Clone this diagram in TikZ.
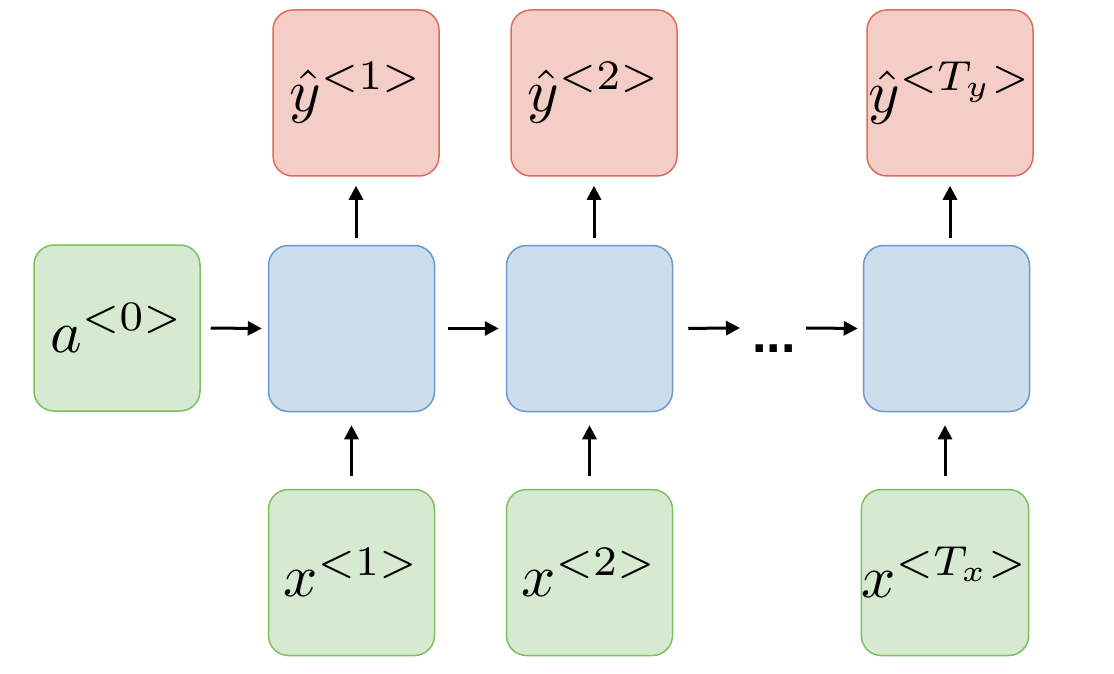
\documentclass[tikz,border=0pt]{standalone}
\usepackage{graphicx}
\usepackage[no-math]{fontspec}
\newfontfamily\dotsfont{Liberation Sans}
\usetikzlibrary{arrows.meta}
\definecolor{gfill}{HTML}{D5EAD0}
\definecolor{gdraw}{HTML}{7EBF5E}
\definecolor{bfill}{HTML}{CCDEEC}
\definecolor{bdraw}{HTML}{6A98CF}
\definecolor{rfill}{HTML}{F5CDC7}
\definecolor{rdraw}{HTML}{E06A5A}
\newcommand{\boxmath}[1]{\scalebox{6}{$#1$}}
\tikzset{
  box/.style={draw, line width=1.5pt, rounded corners=20pt, minimum width=166pt, minimum height=166pt, inner sep=0pt},
  gbox/.style={box, fill=gfill, draw=gdraw},
  bbox/.style={box, fill=bfill, draw=bdraw},
  rbox/.style={box, fill=rfill, draw=rdraw},
  arr/.style={line width=3pt, -{Triangle[length=14pt,width=14pt]}}
}
\begin{document}
\begin{tikzpicture}[x=1pt,y=-1pt]
\useasboundingbox (0,0) rectangle (1114,674);
\node[gbox] (a0) at (117,328) {\boxmath{a^{<0>}}};
\node[bbox] (b1) at (351.5,328.5) {};
\node[bbox] (b2) at (589.5,328.5) {};
\node[bbox] (b3) at (946.5,328.5) {};
\node[rbox] (r1) at (356,93) {\boxmath{\hat{y}^{<1>}}};
\node[rbox] (r2) at (594,93) {\boxmath{\hat{y}^{<2>}}};
\node[rbox] (r3) at (950,93) {\boxmath{\hat{y}^{<T_y>}}};
\node[gbox] (x1) at (351.5,572.5) {\boxmath{x^{<1>}}};
\node[gbox] (x2) at (589.5,572.5) {\boxmath{x^{<2>}}};
\node[gbox] (x3) at (945,572.5) {\boxmath{x^{<T_x>}}};
\node[font=\dotsfont\bfseries\fontsize{52}{60}\selectfont, inner sep=0pt, anchor=base] (dots) at (774,352) {...};
\coordinate (dl) at (740,328);
\coordinate (dr) at (806,328);
\draw[arr, shorten <=10pt, shorten >=6pt] (a0.east) -- (b1.west);
\draw[arr, shorten <=13pt, shorten >=7pt] (b1.east) -- (b2.west);
\draw[arr, shorten <=15pt] (b2.east) -- (dl);
\draw[arr, shorten >=5pt] (dr) -- (b3.west);
\draw[arr, shorten <=7pt, shorten >=9pt] (r1.south |- b1.north) -- (r1.south);
\draw[arr, shorten <=7pt, shorten >=9pt] (r2.south |- b2.north) -- (r2.south);
\draw[arr, shorten <=7pt, shorten >=9pt] (r3.south |- b3.north) -- (r3.south);
\draw[arr, shorten <=13pt, shorten >=13pt] (x1.north) -- (b1.south);
\draw[arr, shorten <=13pt, shorten >=13pt] (x2.north) -- (b2.south);
\draw[arr, shorten <=13pt, shorten >=13pt] (x3.north) -- (x3.north |- b3.south);
\end{tikzpicture}
\end{document}
